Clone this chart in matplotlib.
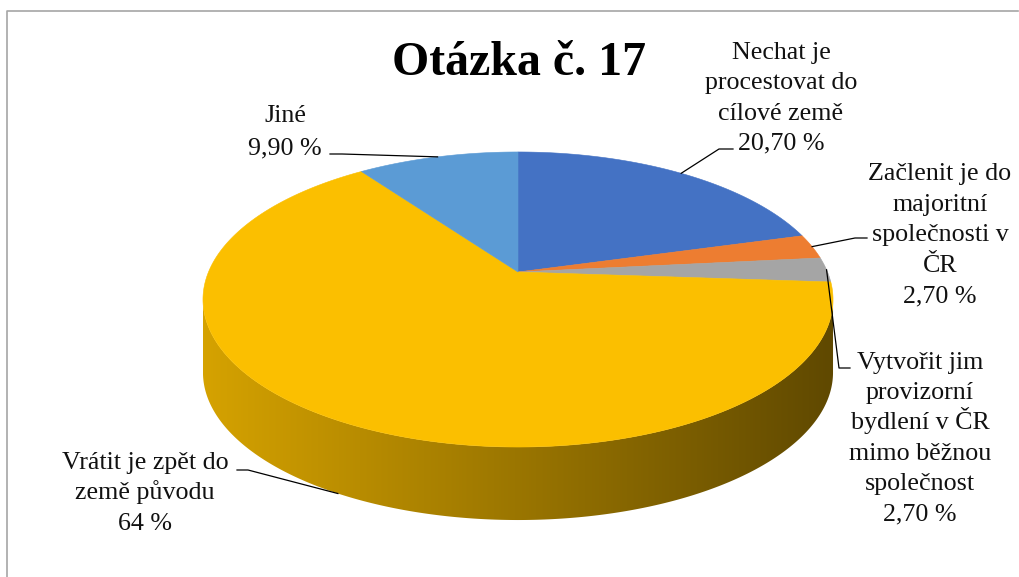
import matplotlib
matplotlib.use('Agg')
import matplotlib.pyplot as plt
from matplotlib.patches import Polygon
import numpy as np

# data, clockwise from 12 o'clock
categories = [
    'Nechat je\nprocestovat do\ncílové země',
    'Začlenit je do\nmajoritní\nspolečnosti v\nČR',
    'Vytvořit jim\nprovizorní\nbydlení v ČR\nmimo běžnou\nspolečnost',
    'Vrátit je zpět do\nzemě původu',
    'Jiné',
]
values = [20.7, 2.7, 2.7, 64.0, 9.9]
value_labels = ['20,70 %', '2,70 %', '2,70 %', '64 %', '9,90 %']
colors = ['#4472C4', '#ED7D31', '#A5A5A5', '#FBBF00', '#5B9BD5']

# label block centre + elbow of the leader line (pixel layout)
LABEL_POS = [(781, 97.5), (940, 234), (920, 437.5), (145, 492.5), (285, 131)]
LINE_STEP = [30.3, 30.5, 30.2, 30.5, 32]
LEADER_START = [(733, 149), (867, 238), (850, 368), (237, 470), (330, 154)]
LEADER_ELBOW = [(719, 149), (855, 238), (839, 368), (248, 470), (342, 154)]
LEADER_ON_BOTTOM = [False, False, False, True, False]

W, H = 1019, 577
CX, CY = 518, 272            # apex of the pie (projected centre)
A, B, K = 309.5, 142.4, 0.1864  # perspective ellipse parameters
DEPTH = 73                   # wall thickness in px
FONT_SIZE = 18.7
TITLE_SIZE = 34.5
LIGHT, DARK = 0.85, 0.38     # wall shading left -> right

plt.rcParams['font.family'] = ['Liberation Serif', 'DejaVu Serif']


def proj(theta, dz=0.0):
    t = np.radians(theta)
    u, v = np.sin(t), np.cos(t)
    w = 1 + K * v
    return CX + A * u / w, CY - B * v / w + dz


fig = plt.figure(figsize=(W / 100, H / 100), dpi=100)
ax = fig.add_axes([0, 0, 1, 1])
ax.set_axis_off()

fracs = np.array(values) / np.sum(values) * 360
starts = np.concatenate([[0], np.cumsum(fracs)[:-1]])
ends = starts + fracs
mids = (starts + ends) / 2

# visible part of the side wall
th1 = np.degrees(np.arccos(-K))
th2 = 360 - th1
x_lo = CX - A * 1.0178
x_hi = CX + A * 1.0178

for s, e, c in zip(starts, ends, colors):
    a0, a1 = max(s, th1), min(e, th2)
    if a1 <= a0:
        continue
    ts = np.linspace(a0, a1, 300)
    tx, ty = proj(ts)
    bx, by = proj(ts[::-1], DEPTH)
    pts = np.column_stack([np.concatenate([tx, bx]), np.concatenate([ty, by])])
    poly = Polygon(pts, closed=True, facecolor='none', edgecolor='none',
                   transform=ax.transData)
    ax.add_patch(poly)
    rgb = np.array(matplotlib.colors.to_rgb(c))
    shade = np.linspace(LIGHT, DARK, 512)
    img = (shade[:, None] * rgb[None, :])[None, :, :]
    im = ax.imshow(img, extent=(x_lo, x_hi, CY + B + DEPTH + 80, CY - B - 10),
                   aspect='auto', interpolation='bilinear', zorder=1)
    im.set_clip_path(poly)

# top face
for s, e, c in zip(starts, ends, colors):
    ts = np.linspace(s, e, max(int(e - s) * 4, 20))
    rx, ry = proj(ts)
    pts = np.column_stack([np.concatenate([[CX], rx]), np.concatenate([[CY], ry])])
    ax.add_patch(Polygon(pts, closed=True, facecolor=c, edgecolor=c,
                         linewidth=0.4, zorder=2))

# leader lines and labels (one text per line so spacing stays even)
for i, cat in enumerate(categories):
    mx, my = proj(mids[i], DEPTH if LEADER_ON_BOTTOM[i] else 0)
    xs = [LEADER_START[i][0], LEADER_ELBOW[i][0], mx]
    ys = [LEADER_START[i][1], LEADER_ELBOW[i][1], my]
    ax.plot(xs, ys, color='black', linewidth=0.9, zorder=3)
    lines = (cat + '\n' + value_labels[i]).split('\n')
    n = len(lines)
    for k, line in enumerate(lines):
        yc = LABEL_POS[i][1] + (k - (n - 1) / 2) * LINE_STEP[i]
        ax.text(LABEL_POS[i][0], yc + 7, line, ha='center', va='baseline',
                fontsize=FONT_SIZE, color='#111111', zorder=4)

ax.text(519, 75, 'Otázka č. 17', ha='center', va='baseline',
        fontsize=TITLE_SIZE, fontweight='bold', zorder=4)

# chart area border
ax.plot([7.5, 7.5, 1018], [577, 10.5, 10.5], color='#A6A6A6', linewidth=1.2)

ax.set_xlim(0, W)
ax.set_ylim(H, 0)
fig.savefig('out.png', dpi=100)
